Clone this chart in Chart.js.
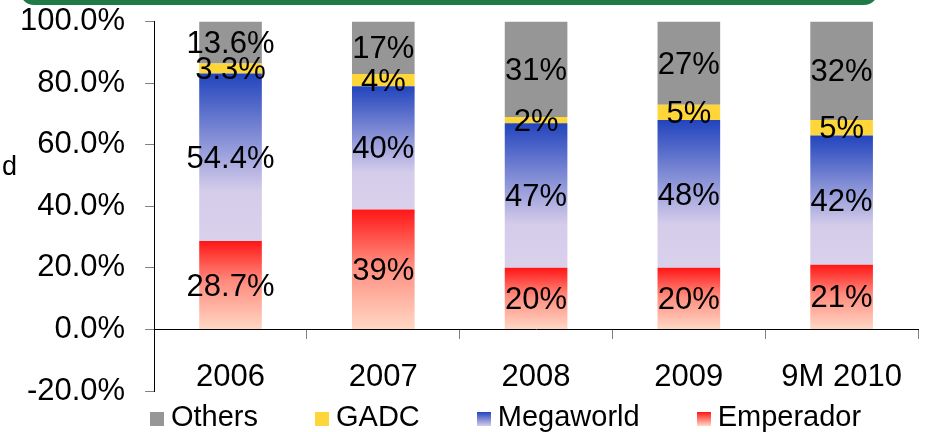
<!DOCTYPE html>
<html>
<head>
<meta charset="utf-8">
<script src="https://cdn.jsdelivr.net/npm/chart.js@4.4.1/dist/chart.umd.min.js"></script>
<style>
  html, body { margin: 0; padding: 0; background: #fff; }
  #wrap { position: relative; width: 948px; height: 432px; overflow: hidden; font-family: "Liberation Sans", Arial, sans-serif; }
  #chartBox { position: absolute; left: 0; top: -17px; width: 948px; height: 449px; }
  #topbar { position: absolute; left: 20px; top: -40px; width: 858px; height: 45px; background: #1f7a48; border-radius: 14px; }
  #stray { position: absolute; left: 2px; top: 151px; font-size: 27px; color: #000; }
  #legend { position: absolute; left: 150px; top: 400px; display: flex; gap: 57px; font-size: 29px; color: #000; }
  #legend .item { display: flex; align-items: center; }
  #legend .box { width: 14px; height: 14px; margin-right: 7px; margin-top: 4px; }
</style>
</head>
<body>
<div id="wrap">
  <div id="chartBox"><canvas id="myChart"></canvas></div>
  <div id="topbar"></div>
  <div id="stray">d</div>
  <div id="legend"></div>
</div>
<script>
document.addEventListener('DOMContentLoaded', function() {

  const categories = ['2006', '2007', '2008', '2009', '9M 2010']
  const emperador = [28.7, 39, 20, 20, 21]
  const megaworld = [54.4, 40, 47, 48, 42]
  const gadc = [3.3, 4, 2, 5, 5]
  const others = [13.6, 17, 31, 27, 32]
  const labelDecimals = [1, 0, 0, 0, 0]
  const yTicks = [-20, 0, 20, 40, 60, 80, 100]

  const fontFamily = '"Liberation Sans", Arial, sans-serif'
  Chart.defaults.font.family = fontFamily

  // vertical gradient across each stacked segment
  function segmentFill(stops) {
    return function(context) {
      const chart = context.chart
      if (!chart.chartArea || context.type !== 'data') return stops[stops.length - 1][1]
      const d = context.datasetIndex, i = context.dataIndex
      let base = 0
      for (let k = 0; k < d; k++) base += chart.data.datasets[k].data[i]
      const y = chart.scales.y
      const top = y.getPixelForValue(base + chart.data.datasets[d].data[i])
      const bottom = y.getPixelForValue(base)
      const g = chart.ctx.createLinearGradient(0, top, 0, bottom)
      stops.forEach(s => g.addColorStop(s[0], s[1]))
      return g
    }
  }

  const series = [
    { label: 'Emperador', data: emperador, stops: [[0, '#ff1616'], [0.45, '#ff8a7c'], [1, '#ffd8c5']], css: 'linear-gradient(#ff1616, #ffd8c5)' },
    { label: 'Megaworld', data: megaworld, stops: [[0, '#2244bd'], [0.7, '#d5ccea'], [1, '#d9d0ec']], css: 'linear-gradient(#2244bd, #d5ccea)' },
    { label: 'GADC', data: gadc, stops: [[0, '#ffd63a'], [1, '#ffd63a']], css: '#ffd63a' },
    { label: 'Others', data: others, stops: [[0, '#969696'], [1, '#969696']], css: '#969696' }
  ]

  const valueLabels = {
    id: 'valueLabels',
    afterDatasetsDraw(chart) {
      const ctx = chart.ctx
      ctx.save()
      ctx.font = '31px ' + fontFamily
      ctx.fillStyle = '#000'
      ctx.textAlign = 'center'
      ctx.textBaseline = 'middle'
      chart.data.datasets.forEach((ds, d) => {
        chart.getDatasetMeta(d).data.forEach((bar, i) => {
          const p = bar.getCenterPoint()
          ctx.fillText(ds.data[i].toFixed(labelDecimals[i]) + '%', p.x, p.y + 2)
        })
      })
      ctx.restore()
    }
  }

  const data = {
    labels: categories,
    datasets: series.map(s => ({
      label: s.label,
      data: s.data,
      backgroundColor: segmentFill(s.stops),
      borderWidth: 0,
      categoryPercentage: 1,
      barPercentage: 0.41
    }))
  }

  const ctx = document.getElementById('myChart').getContext('2d')
  new Chart(ctx, {
    type: 'bar',
    data: data,
    plugins: [valueLabels],
    options: {
      responsive: true,
      maintainAspectRatio: false,
      animation: false,
      layout: { padding: { left: 0, right: 30, top: 0, bottom: 41 } },
      plugins: {
        legend: { display: false },
        tooltip: { enabled: false }
      },
      scales: {
        x: {
          stacked: true,
          position: { y: 0 },
          grid: { drawOnChartArea: false, tickLength: 9, color: '#808080', offset: true },
          border: { color: '#000', width: 1 },
          ticks: { color: '#000', font: { size: 31 }, padding: 20 }
        },
        y: {
          stacked: true,
          min: yTicks[0],
          max: yTicks[yTicks.length - 1],
          afterBuildTicks: axis => { axis.ticks = yTicks.map(v => ({ value: v })) },
          grid: { drawOnChartArea: false, tickLength: 9, color: '#808080' },
          border: { color: '#000', width: 1 },
          ticks: { color: '#000', font: { size: 31 }, padding: 20, callback: v => v.toFixed(1) + '%' }
        }
      }
    }
  })

  // html legend, top series first
  const legend = document.getElementById('legend')
  series.slice().reverse().forEach(s => {
    const item = document.createElement('div')
    item.className = 'item'
    const box = document.createElement('span')
    box.className = 'box'
    box.style.background = s.css
    const text = document.createElement('span')
    text.textContent = s.label
    item.appendChild(box)
    item.appendChild(text)
    legend.appendChild(item)
  })
})
</script>
</body>
</html>
